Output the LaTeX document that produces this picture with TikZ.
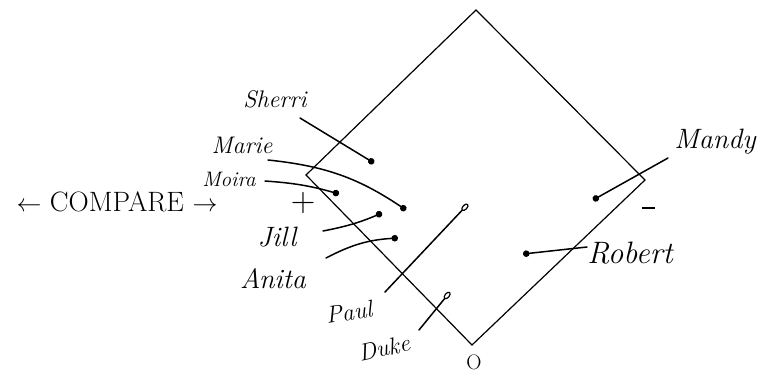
\documentclass[tikz,border=0pt]{standalone}
\usepackage{fontspec}
\usetikzlibrary{arrows.meta}
\begin{document}
\begin{tikzpicture}[x=1pt,y=-1pt,
  frame/.style={line width=1.2pt,line join=miter},
  hand/.style={font=\itshape\fontsize{24}{26}\selectfont,inner sep=0pt},
  link/.style={line width=1.5pt,line cap=round,-{Circle[length=6.5pt]}},
  stick/.style={line width=1.5pt,line cap=round,-{Ellipse[length=9pt,width=5.5pt,open,line width=1.2pt]}},
  signmark/.style={font=\fontsize{20}{22}\selectfont,inner sep=0pt}]
\useasboundingbox (0,0) rectangle (771,373);
% diamond
\coordinate (top) at (476,10);
\coordinate (right) at (645,180);
\coordinate (bottom) at (472,345);
\coordinate (left) at (306,175);
\draw[frame] (top) -- (right) -- (bottom) -- (left) -- cycle;
% labels
\node[font=\fontsize{28}{30}\selectfont,inner sep=0pt] (compare) at (117,202) {$\leftarrow$\ COMPARE\ $\rightarrow$};
\node[signmark,font=\fontsize{34}{36}\selectfont] (plus) at (303,203) {+};
\node[signmark] (minus) at (648,208) {\rule{13pt}{1.4pt}};
\node[signmark,font=\fontsize{21}{23}\selectfont] (zero) at (474,362) {O};
\node[hand] (sherri) at (275,99) {Sherri};
\node[hand] (marie) at (242,145) {Marie};
\node[hand,font=\itshape\fontsize{21}{23}\selectfont] (moira) at (229,179) {Moira};
\node[hand,font=\itshape\fontsize{28}{30}\selectfont] (jill) at (277,237) {Jill};
\node[hand,font=\itshape\fontsize{28}{30}\selectfont] (anita) at (273,279) {Anita};
\node[hand,rotate=8] (paul) at (349,312) {Paul};
\node[hand,rotate=12] (duke) at (384,348) {Duke};
\node[hand,font=\itshape\fontsize{28}{30}\selectfont] (mandy) at (715,142) {Mandy};
\node[hand,font=\itshape\fontsize{31}{33}\selectfont] (robert) at (630,253) {Robert};
% connector ends
\coordinate (sherriA) at (300,118); \coordinate (sherriB) at (374,163);
\coordinate (marieA) at (268,160);  \coordinate (marieB) at (406,210);
\coordinate (moiraA) at (265,181);  \coordinate (moiraB) at (339,194);
\coordinate (jillA) at (323,231);   \coordinate (jillB) at (382,213);
\coordinate (anitaA) at (326,258);  \coordinate (anitaB) at (398,238);
\coordinate (paulA) at (385,292);   \coordinate (paulB) at (468,204);
\coordinate (dukeA) at (419,330);   \coordinate (dukeB) at (450,292);
\coordinate (mandyA) at (668,158);  \coordinate (mandyB) at (593,200);
\coordinate (robertA) at (587,247); \coordinate (robertB) at (523,254);
% connectors
\draw[link] (sherriA) -- (sherriB);
\draw[link] (marieA) to[bend left=14] (marieB);
\draw[link] (moiraA) to[bend left=6] (moiraB);
\draw[link] (jillA) to[bend right=6] (jillB);
\draw[link] (anitaA) to[bend left=12] (anitaB);
\draw[stick] (paulA) -- (paulB);
\draw[stick] (dukeA) -- (dukeB);
\draw[link] (mandyA) -- (mandyB);
\draw[link] (robertA) -- (robertB);
\end{tikzpicture}
\end{document}
